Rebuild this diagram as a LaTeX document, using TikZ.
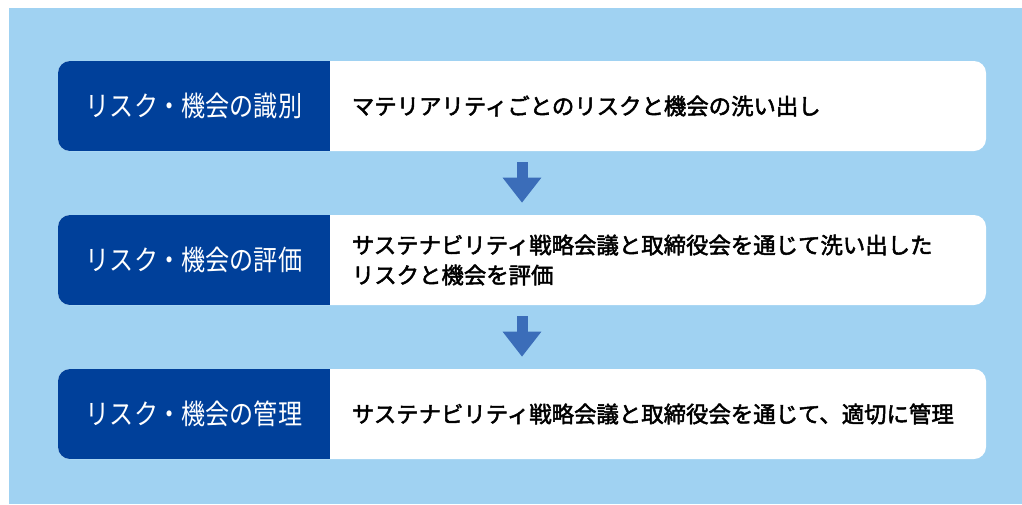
\documentclass[tikz,border=0pt]{standalone}
\usepackage{fontspec}
\usetikzlibrary{positioning,arrows.meta}
\newfontfamily\jpfont[FakeBold=2.2]{Noto Sans CJK JP}
\newfontfamily\jplabel[FakeStretch=0.86]{Noto Sans CJK JP}
\definecolor{bgblue}{HTML}{A0D2F2}
\definecolor{navy}{HTML}{00409A}
\definecolor{arrowblue}{HTML}{3B6DB9}
\tikzset{
  rowbox/.style={fill=white, rounded corners=9pt, minimum width=696pt, minimum height=67.5pt, inner sep=0pt,
    path picture={\fill[navy, sharp corners] (path picture bounding box.south west) rectangle ([xshift=204pt]path picture bounding box.north west);}},
  tag/.style={text=white, font=\jplabel\fontsize{21}{24}\selectfont, minimum width=204pt, minimum height=67.5pt, inner sep=0pt},
  desc/.style={font=\jpfont\fontsize{16.8}{22.5}\selectfont, align=left, inner sep=0pt},
  flow/.style={arrowblue, line width=8.25pt, -{Triangle[width=27.75pt,length=18.75pt]}, shorten <=8.25pt, shorten >=9pt}
}

\begin{document}
\begin{tikzpicture}[x=0.75pt, y=-0.75pt]
    \useasboundingbox (0,0) rectangle (1022,504);
    \fill[white] (0,0) rectangle (1022,504);
    \fill[bgblue] (9,8) rectangle (1022,504);

    % rows
    \node[rowbox] (row1) at (522,106) {};
    \node[rowbox] (row2) at (522,260) {};
    \node[rowbox] (row3) at (522,414) {};

    \node[tag, anchor=west] (tag1) at (row1.west) {リスク・機会の識別};
    \node[tag, anchor=west] (tag2) at (row2.west) {リスク・機会の評価};
    \node[tag, anchor=west] (tag3) at (row3.west) {リスク・機会の管理};

    \node[desc, right=16pt of tag1] (desc1) {マテリアリティごとのリスクと機会の洗い出し};
    \node[desc, right=16pt of tag2] (desc2) {サステナビリティ戦略会議と取締役会を通じて洗い出した\\リスクと機会を評価};
    \node[desc, right=16pt of tag3] (desc3) {サステナビリティ戦略会議と取締役会を通じて、適切に管理};

    % arrows
    \draw[flow] (row1.south) -- (row2.north);
    \draw[flow] (row2.south) -- (row3.north);
\end{tikzpicture}
\end{document}
